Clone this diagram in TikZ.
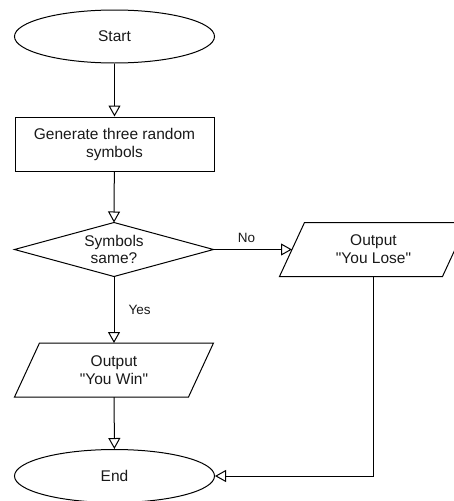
\documentclass[tikz,border=0pt]{standalone}
\usepackage{fontspec}
\setmainfont{Liberation Sans}[Ligatures=TeXOff]
\usetikzlibrary{shapes.geometric,arrows.meta}
\begin{document}
\begin{tikzpicture}[x=1pt,y=-1pt,
  box/.style={line width=1pt, inner sep=0pt, align=center,
    font=\fontsize{15.5}{18}\selectfont, text=black!90},
  term/.style={box, draw, ellipse, minimum width=200pt, minimum height=53pt},
  proc/.style={box, draw, rectangle, minimum width=199pt, minimum height=54pt},
  dec/.style={box, rectangle, minimum width=198pt, minimum height=53pt},
  io/.style={box, rectangle, minimum height=53pt},
  outline/.style={draw, line width=1pt, line join=miter},
  conn/.style={draw, line width=1pt, -{Triangle[open, length=11pt, width=12pt]}},
  lbl/.style={font=\fontsize{13.5}{16}\selectfont, text=black!90, inner sep=0pt}]
\useasboundingbox (0,0) rectangle (454,501);
\clip (0,0) rectangle (454,501);
\node[term] (start) at (114.5,36.5) {Start};
\node[proc] (gen) at (114.5,144) {Generate three random\\symbols};
\node[dec] (same) at (114,249.5) {Symbols\\[-1pt]same?};
\node[io, minimum width=187pt] (lose) at (373.5,249.5) {Output\\"You Lose"};
\node[io, minimum width=198pt] (win) at (114,370) {Output\\"You Win"};
\node[term] (end) at (114.5,476) {End};
% outlines
\draw[outline] (same.north) -- (same.east) -- (same.south) -- (same.west) -- cycle;
\draw[outline] (lose.south west) -- ([xshift=25pt]lose.north west) -- (lose.north east) -- ([xshift=-25pt]lose.south east) -- cycle;
\draw[outline] (win.south west) -- ([xshift=25pt]win.north west) -- (win.north east) -- ([xshift=-25pt]win.south east) -- cycle;
% connectors
\draw[conn] (start) -- (gen);
\draw[conn] (gen) -- (same.north);
\draw[conn] (same.east) -- node[lbl, above=6pt, pos=0.42] {No} ([xshift=12.5pt]lose.west);
\draw[conn] (same.south) -- node[lbl, right=14pt, pos=0.5] {Yes} (win.north);
\draw[conn] (win) -- (end);
\draw[conn] (lose.south) |- (end.east);
\end{tikzpicture}
\end{document}
